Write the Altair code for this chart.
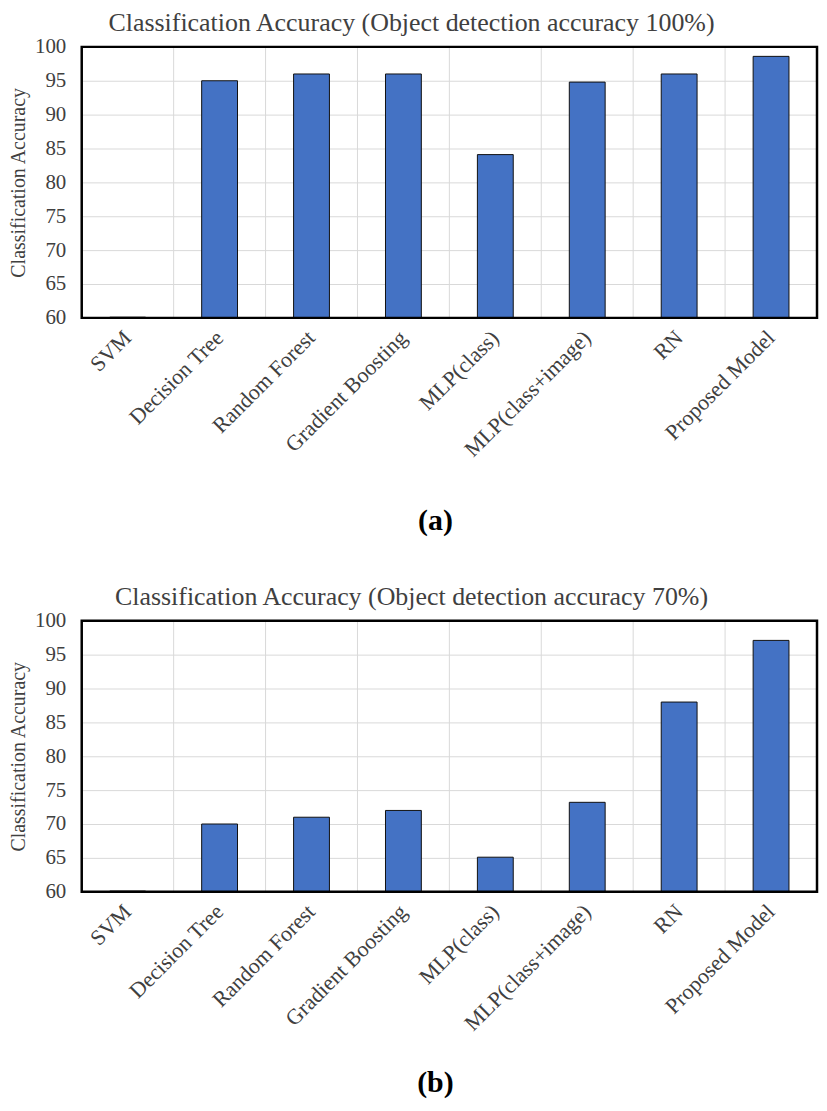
import altair as alt
import pandas as pd

categories = ["SVM", "Decision Tree", "Random Forest", "Gradient Boosting",
              "MLP(class)", "MLP(class+image)", "RN", "Proposed Model"]
acc_100 = [60.1, 95.0, 96.0, 96.0, 84.1, 94.8, 96.0, 98.6]
acc_70 = [60.1, 70.0, 71.0, 72.0, 65.1, 73.2, 88.0, 97.1]
y_ticks = [60, 65, 70, 75, 80, 85, 90, 95, 100]
titles = ["Classification Accuracy (Object detection accuracy 100%)",
          "Classification Accuracy (Object detection accuracy 70%)"]
captions = ["(a)", "(b)"]

FONT = "Liberation Serif"
TXT = "#404040"
W, H = 738, 272


def x_enc(**kw):
    return alt.X("model:N", sort=categories, title=None,
                 scale=alt.Scale(paddingInner=0, paddingOuter=0),
                 axis=alt.Axis(labelAngle=-45, labelAlign="right", labelBaseline="middle",
                               labelFont=FONT, labelFontSize=22, labelColor=TXT,
                               labelPadding=16, ticks=False, domain=False,
                               grid=False, labelLimit=300), **kw)


def panel(values, title, cap, cap_y):
    df = pd.DataFrame({"model": categories, "acc": values})
    yscale = alt.Scale(domain=[60, 100], nice=False, zero=False)
    rules = alt.Chart(df).mark_rule(color="#d9d9d9", strokeWidth=1).encode(
        x=x_enc(bandPosition=0), y=alt.value(0), y2=alt.value("height"))
    bars = alt.Chart(df).mark_bar(width=alt.RelativeBandSize(0.39), color="#4472C4",
                                  stroke="#111111", strokeWidth=1).encode(
        x=x_enc(),
        y=alt.Y("acc:Q", scale=yscale, title="Classification Accuracy",
                axis=alt.Axis(values=y_ticks, grid=True, gridColor="#d9d9d9", gridWidth=1,
                              domain=False, ticks=False, labelFont=FONT, labelFontSize=21,
                              labelColor=TXT, labelPadding=16, titleFont=FONT,
                              titleFontSize=20, titleFontWeight="normal", titleColor=TXT,
                              titlePadding=6)),
        y2=alt.Y2(datum=60))
    frame = alt.Chart(pd.DataFrame({"f": [0]})).mark_rect(
        filled=False, stroke="black", strokeWidth=2.5).encode(
        x=alt.value(0), x2=alt.value("width"), y=alt.value(0), y2=alt.value("height"))
    capt = alt.Chart(pd.DataFrame({"caption": [cap]})).mark_text(
        font=FONT, fontWeight="bold", fontSize=30, color="black",
        baseline="middle", align="center").encode(
        text="caption:N", x=alt.value(355), y=alt.value(cap_y))
    return alt.layer(rules, bars, frame, capt).properties(
        width=W, height=H,
        title=alt.TitleParams(title, font=FONT, fontSize=26, fontWeight="normal",
                              color=TXT, anchor="middle", offset=0, dx=-38))


chart = alt.vconcat(
    panel(acc_100, titles[0], captions[0], 476),
    panel(acc_70, titles[1], captions[1], 464),
    spacing=48,
).properties(padding=0).configure_view(strokeWidth=0)

chart.save("out.html", embed_options={"renderer": "svg", "actions": False})
